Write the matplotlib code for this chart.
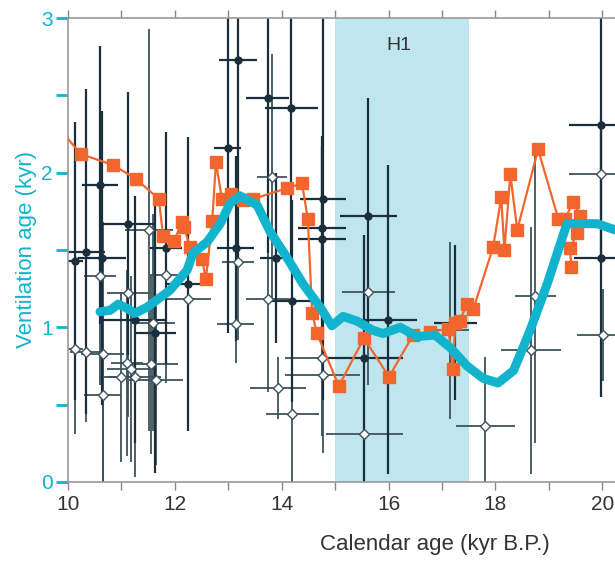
import numpy as np
import matplotlib
matplotlib.use("Agg")
import matplotlib.pyplot as plt

plt.rcParams['font.family'] = ['Liberation Sans', 'DejaVu Sans']

# orange record (squares)
orange_x = [9.8, 10.24, 10.84, 11.27, 11.70, 11.78, 11.99, 12.13, 12.17, 12.28, 12.51, 12.58,
            12.70, 12.77, 12.88, 13.05, 13.28, 13.47, 14.10, 14.38, 14.49, 14.57, 14.66, 15.07,
            15.54, 16.01, 16.46, 16.78, 17.12, 17.21, 17.25, 17.33, 17.47, 17.59, 17.96, 18.11,
            18.17, 18.28, 18.41, 18.80, 19.18, 19.30, 19.46, 19.59, 19.53, 19.40, 19.42]
orange_y = [2.30, 2.12, 2.05, 1.96, 1.83, 1.59, 1.56, 1.68, 1.65, 1.52, 1.44, 1.31,
            1.69, 2.07, 1.83, 1.86, 1.82, 1.83, 1.90, 1.93, 1.70, 1.09, 0.96, 0.62,
            0.93, 0.68, 0.95, 0.97, 0.99, 0.73, 1.03, 1.04, 1.15, 1.12, 1.52, 1.84,
            1.50, 1.99, 1.63, 2.15, 1.70, 1.70, 1.81, 1.72, 1.61, 1.51, 1.39]

# smoothed curve (cyan)
cyan_x = [10.6, 10.79, 10.94, 11.12, 11.25, 11.48, 11.91, 12.23, 12.34, 12.6, 12.85, 13.03,
          13.22, 13.54, 13.78, 14.10, 14.40, 14.72, 14.94, 15.15, 15.41, 15.71, 15.90, 16.22,
          16.53, 16.87, 17.15, 17.47, 17.77, 18.05, 18.34, 18.52, 18.65, 18.97, 19.34, 19.91, 20.24]
cyan_y = [1.10, 1.11, 1.15, 1.12, 1.09, 1.13, 1.24, 1.37, 1.48, 1.55, 1.67, 1.80,
          1.85, 1.79, 1.62, 1.45, 1.28, 1.13, 1.01, 1.07, 1.04, 0.98, 0.96, 1.00,
          0.94, 0.95, 0.87, 0.75, 0.67, 0.64, 0.72, 0.87, 0.98, 1.28, 1.67, 1.67, 1.63]

# individual ages, filled circles
fill_x = [10.13, 10.34, 10.63, 10.60, 11.13, 11.25, 11.63, 11.83, 12.25, 12.99, 13.18, 13.14,
          13.74, 13.90, 14.18, 14.19, 14.78, 14.76, 14.76, 15.62, 15.99, 15.55, 17.25, 19.98, 19.98]
fill_y = [1.43, 1.49, 1.45, 1.92, 1.67, 1.05, 0.96, 1.51, 1.28, 2.16, 2.73, 1.51,
          2.48, 1.45, 2.42, 1.17, 1.83, 1.64, 1.57, 1.72, 1.05, 0.80, 1.03, 2.31, 1.45]
fill_xerr = [0.15, 0.35, 0.45, 0.33, 0.50, 0.60, 0.40, 0.30, 0.40, 0.25, 0.35, 0.35,
             0.40, 0.30, 0.50, 0.45, 0.43, 0.45, 0.45, 0.53, 0.55, 0.72, 0.40, 0.60, 0.50]
fill_yerr = [0.90, 1.05, 0.95, 0.90, 0.85, 0.80, 0.90, 0.75, 0.95, 1.20, 1.30, 0.60,
             1.00, 0.55, 1.00, 0.65, 1.30, 0.60, 0.60, 0.76, 1.00, 0.80, 0.50, 0.90, 0.90]

# individual ages, open diamonds
open_x = [10.13, 10.34, 10.65, 10.65, 10.60, 11.13, 11.10, 11.18, 10.99, 11.25, 11.55, 11.65,
          11.52, 11.60, 11.83, 12.25, 13.18, 13.14, 13.82, 13.74, 13.93, 14.20, 14.76, 14.77,
          15.62, 15.55, 17.15, 17.81, 18.67, 18.75, 19.98, 20.02]
open_y = [0.86, 0.84, 0.83, 0.56, 1.33, 1.22, 0.77, 0.73, 0.68, 0.68, 0.76, 0.66,
          1.63, 1.03, 1.34, 1.18, 1.42, 1.02, 1.97, 1.18, 0.61, 0.44, 0.80, 0.69,
          1.23, 0.31, 0.98, 0.36, 0.85, 1.20, 1.99, 0.95]
open_xerr = [0.15, 0.30, 0.40, 0.35, 0.30, 0.40, 0.30, 0.45, 0.40, 0.50, 0.50, 0.50,
             0.45, 0.40, 0.30, 0.43, 0.30, 0.35, 0.28, 0.40, 0.53, 0.50, 0.70, 0.70,
             0.50, 0.72, 0.35, 0.55, 0.56, 0.38, 0.60, 0.50]
open_yerr = [0.55, 0.45, 0.85, 0.60, 0.70, 0.80, 0.60, 0.60, 0.55, 0.65, 0.58, 0.55,
             1.30, 0.70, 0.70, 0.50, 0.50, 0.25, 0.80, 0.60, 0.20, 0.60, 0.50, 0.50,
             0.60, 0.30, 0.57, 0.45, 0.80, 0.95, 0.70, 0.30]

h1_start, h1_end = 15.0, 17.5

cyan = '#12b3cc'
orange = '#f2662e'
dark = '#1a2f3b'
slate = '#3c535d'

fig = plt.figure(figsize=(6.15, 5.63), dpi=100)
ax = fig.add_axes([0.1106, 0.144, 0.8894, 0.824])

ax.axvspan(h1_start, h1_end, color='#bfe6ee', lw=0, zorder=0)
ax.text(16.2, 2.82, 'H1', fontsize=14, color='#333333', ha='center', va='center')

ax.errorbar(open_x, open_y, xerr=open_xerr, yerr=open_yerr, fmt='none',
            ecolor=slate, elinewidth=1.3, capsize=0, zorder=2)
ax.errorbar(fill_x, fill_y, xerr=fill_xerr, yerr=fill_yerr, fmt='none',
            ecolor=dark, elinewidth=1.6, capsize=0, zorder=2)
ax.plot(fill_x, fill_y, 'o', color=dark, markersize=5, zorder=3)
ax.plot(open_x, open_y, 'D', mfc='white', mec=slate, mew=1.0, markersize=5, zorder=3)

ax.plot(orange_x, orange_y, '-s', color=orange, lw=1.6, markersize=9, zorder=4)
ax.plot(cyan_x, cyan_y, '-', color=cyan, lw=6.5, solid_capstyle='round',
        solid_joinstyle='round', zorder=5)

ax.set_xlim(10, 20.24)
ax.set_ylim(0, 3)

ax.set_xticks([10, 12, 14, 16, 18, 20])
ax.set_xticks(np.arange(11, 21, 2), minor=True)
ax.set_yticks([0, 1, 2, 3])
ax.set_yticks([0.5, 1.5, 2.5], minor=True)

ax.tick_params(axis='x', which='both', direction='out', length=6, width=1,
               color='#888888', labelsize=15, labelcolor='#333333', top=True)
ax.tick_params(axis='y', which='both', direction='out', length=9, width=2,
               color=cyan, labelsize=15, labelcolor=cyan, pad=2)

for side in ['left', 'top', 'bottom']:
    ax.spines[side].set_color('#999999')
    ax.spines[side].set_linewidth(1.2)
ax.spines['right'].set_visible(False)

ax.set_xlabel('Calendar age (kyr B.P.)', fontsize=16, color='#333333')
ax.set_ylabel('Ventilation age (kyr)', fontsize=16, color=cyan, labelpad=3)
ax.xaxis.set_label_coords(0.671, -0.112)

fig.savefig('out.png', dpi=100)
